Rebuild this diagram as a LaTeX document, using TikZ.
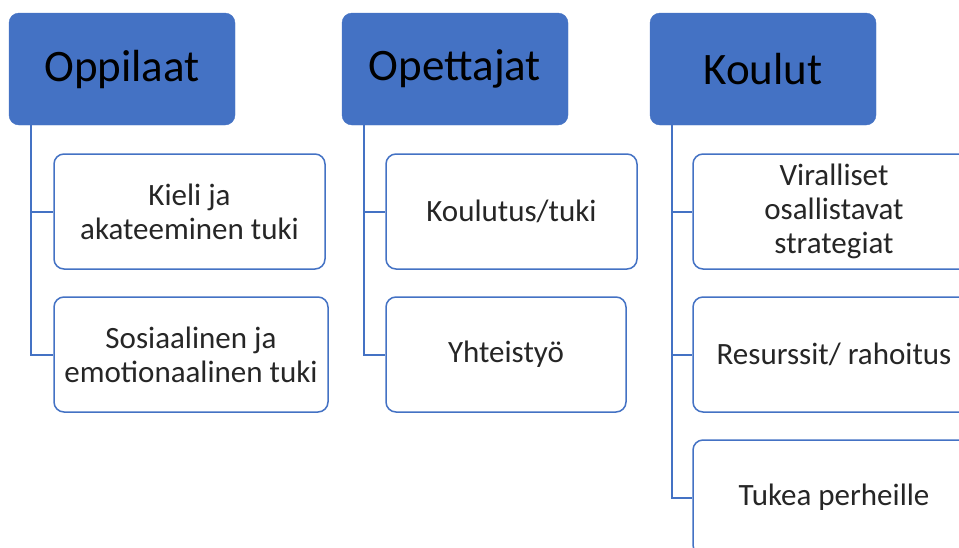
\documentclass[tikz,border=0pt]{standalone}
\usepackage{fontspec}
\setmainfont{Carlito}
\definecolor{hdblue}{HTML}{4472C4}
\tikzset{
  head/.style={draw=hdblue, fill=hdblue, rounded corners=10pt, minimum width=226pt,
    minimum height=112pt, font=\fontsize{45}{54}\selectfont, text=black},
  leaf/.style={draw=hdblue, line width=1.5pt, fill=white, rounded corners=10pt,
    minimum height=115pt, align=center, font=\fontsize{31}{34}\selectfont, text=black!85},
  link/.style={draw=hdblue, line width=2pt}
}
\begin{document}
\begin{tikzpicture}[x=1pt, y=-1pt]
        \clip (0, 0) rectangle (959, 547);
        \node[head] (opp) at (122, 69) {Oppilaat};
        \node[head] (ope) at (455, 69) {Opettajat};
        \node[head] (kou) at (763, 69) {Koulut};
        % Oppilaat
        \node[leaf, minimum width=271pt] (opp1) at (189.5, 211.5) {Kieli ja\\akateeminen tuki};
        \node[leaf, minimum width=274pt] (opp2) at (191, 354.5) {Sosiaalinen ja\\emotionaalinen tuki};
        % Opettajat
        \node[leaf, minimum width=251pt] (ope1) at (511.5, 211.5) {Koulutus/tuki};
        \node[leaf, minimum width=240pt] (ope2) at (506, 354.5) {Yhteistyö};
        % Koulut
        \foreach \n/\y/\t in {1/211.5/{Viralliset\\osallistavat\\strategiat},
                              2/354.5/{Resurssit/ rahoitus},
                              3/497.5/{Tukea perheille}} {
            \node[leaf, minimum width=282pt] (kou\n) at (834, \y) {\t};
        }
        \foreach \c in {opp1, opp2} {
            \draw[link] ([xshift=22pt]opp.south west) |- (\c.west);
        }
        \foreach \c in {ope1, ope2} {
            \draw[link] ([xshift=22pt]ope.south west) |- (\c.west);
        }
        \foreach \c in {kou1, kou2, kou3} {
            \draw[link] ([xshift=22pt]kou.south west) |- (\c.west);
        }
    \end{tikzpicture}
\end{document}
